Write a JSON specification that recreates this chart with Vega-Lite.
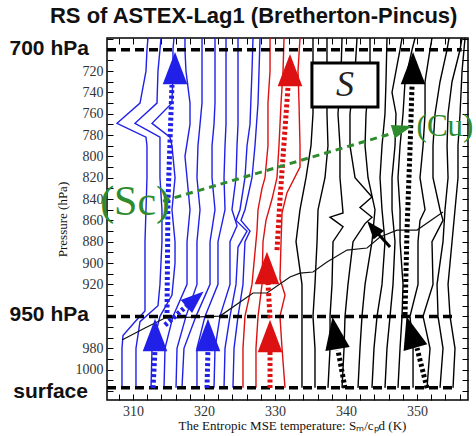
{
  "$schema": "https://vega.github.io/schema/vega-lite/v6.json",
  "width": 361,
  "height": 362,
  "autosize": "none",
  "padding": {"left": 107, "top": 38, "right": 8, "bottom": 36},
  "config": {"view": {"stroke": "black", "strokeWidth": 1.5}, "axis": {"grid": false}},
  "resolve": {"axis": {"x": "independent", "y": "independent"}},
  "datasets": {
    "lines": [
      {"id":"B1","g":"Sc","o":1,"T":308.45,"p":1017},{"id":"B1","g":"Sc","o":2,"T":308.45,"p":980},{"id":"B1","g":"Sc","o":3,"T":308.59,"p":968},{"id":"B1","g":"Sc","o":4,"T":310.28,"p":955},{"id":"B1","g":"Sc","o":5,"T":311.69,"p":945},{"id":"B1","g":"Sc","o":6,"T":311.69,"p":920},{"id":"B1","g":"Sc","o":7,"T":311.69,"p":880},{"id":"B1","g":"Sc","o":8,"T":311.83,"p":850},{"id":"B1","g":"Sc","o":9,"T":311.97,"p":820},{"id":"B1","g":"Sc","o":10,"T":311.97,"p":790},{"id":"B1","g":"Sc","o":11,"T":311.83,"p":782},{"id":"B1","g":"Sc","o":12,"T":307.75,"p":769},{"id":"B1","g":"Sc","o":13,"T":310.99,"p":750},{"id":"B1","g":"Sc","o":14,"T":311.83,"p":720},{"id":"B1","g":"Sc","o":15,"T":311.97,"p":700},{"id":"B1","g":"Sc","o":16,"T":312.11,"p":689},
      {"id":"B2","g":"Sc","o":1,"T":310.42,"p":1017},{"id":"B2","g":"Sc","o":2,"T":310.42,"p":980},{"id":"B2","g":"Sc","o":3,"T":310.99,"p":955},{"id":"B2","g":"Sc","o":4,"T":313.52,"p":940},{"id":"B2","g":"Sc","o":5,"T":313.80,"p":920},{"id":"B2","g":"Sc","o":6,"T":314.08,"p":880},{"id":"B2","g":"Sc","o":7,"T":314.08,"p":850},{"id":"B2","g":"Sc","o":8,"T":313.80,"p":820},{"id":"B2","g":"Sc","o":9,"T":313.80,"p":782},{"id":"B2","g":"Sc","o":10,"T":310.28,"p":769},{"id":"B2","g":"Sc","o":11,"T":313.38,"p":750},{"id":"B2","g":"Sc","o":12,"T":313.52,"p":720},{"id":"B2","g":"Sc","o":13,"T":313.80,"p":700},{"id":"B2","g":"Sc","o":14,"T":313.94,"p":689},
      {"id":"B3","g":"Sc","o":1,"T":312.54,"p":1017},{"id":"B3","g":"Sc","o":2,"T":312.68,"p":980},{"id":"B3","g":"Sc","o":3,"T":313.80,"p":950},{"id":"B3","g":"Sc","o":4,"T":315.49,"p":930},{"id":"B3","g":"Sc","o":5,"T":315.92,"p":900},{"id":"B3","g":"Sc","o":6,"T":315.92,"p":880},{"id":"B3","g":"Sc","o":7,"T":315.49,"p":850},{"id":"B3","g":"Sc","o":8,"T":315.92,"p":820},{"id":"B3","g":"Sc","o":9,"T":315.49,"p":790},{"id":"B3","g":"Sc","o":10,"T":315.21,"p":782},{"id":"B3","g":"Sc","o":11,"T":312.68,"p":769},{"id":"B3","g":"Sc","o":12,"T":315.49,"p":750},{"id":"B3","g":"Sc","o":13,"T":315.63,"p":720},{"id":"B3","g":"Sc","o":14,"T":315.63,"p":700},{"id":"B3","g":"Sc","o":15,"T":315.77,"p":689},
      {"id":"B4","g":"Sc","o":1,"T":314.37,"p":1017},{"id":"B4","g":"Sc","o":2,"T":314.51,"p":980},{"id":"B4","g":"Sc","o":3,"T":315.63,"p":950},{"id":"B4","g":"Sc","o":4,"T":317.61,"p":920},{"id":"B4","g":"Sc","o":5,"T":317.61,"p":880},{"id":"B4","g":"Sc","o":6,"T":318.03,"p":850},{"id":"B4","g":"Sc","o":7,"T":317.61,"p":820},{"id":"B4","g":"Sc","o":8,"T":317.32,"p":800},{"id":"B4","g":"Sc","o":9,"T":318.03,"p":770},{"id":"B4","g":"Sc","o":10,"T":318.03,"p":750},{"id":"B4","g":"Sc","o":11,"T":317.46,"p":720},{"id":"B4","g":"Sc","o":12,"T":317.32,"p":700},{"id":"B4","g":"Sc","o":13,"T":317.32,"p":689},
      {"id":"B5","g":"Sc","o":1,"T":316.06,"p":1017},{"id":"B5","g":"Sc","o":2,"T":316.20,"p":980},{"id":"B5","g":"Sc","o":3,"T":317.46,"p":950},{"id":"B5","g":"Sc","o":4,"T":319.01,"p":920},{"id":"B5","g":"Sc","o":5,"T":319.01,"p":880},{"id":"B5","g":"Sc","o":6,"T":319.44,"p":850},{"id":"B5","g":"Sc","o":7,"T":319.01,"p":820},{"id":"B5","g":"Sc","o":8,"T":319.15,"p":790},{"id":"B5","g":"Sc","o":9,"T":319.44,"p":770},{"id":"B5","g":"Sc","o":10,"T":319.72,"p":750},{"id":"B5","g":"Sc","o":11,"T":319.72,"p":720},{"id":"B5","g":"Sc","o":12,"T":319.72,"p":689},
      {"id":"B6","g":"Sc","o":1,"T":316.90,"p":1017},{"id":"B6","g":"Sc","o":2,"T":317.18,"p":980},{"id":"B6","g":"Sc","o":3,"T":318.87,"p":950},{"id":"B6","g":"Sc","o":4,"T":320.85,"p":920},{"id":"B6","g":"Sc","o":5,"T":320.85,"p":880},{"id":"B6","g":"Sc","o":6,"T":321.55,"p":850},{"id":"B6","g":"Sc","o":7,"T":321.13,"p":820},{"id":"B6","g":"Sc","o":8,"T":321.13,"p":790},{"id":"B6","g":"Sc","o":9,"T":321.41,"p":770},{"id":"B6","g":"Sc","o":10,"T":321.55,"p":750},{"id":"B6","g":"Sc","o":11,"T":321.55,"p":689},
      {"id":"B7","g":"Sc","o":1,"T":319.01,"p":1017},{"id":"B7","g":"Sc","o":2,"T":319.01,"p":980},{"id":"B7","g":"Sc","o":3,"T":320.14,"p":950},{"id":"B7","g":"Sc","o":4,"T":321.97,"p":920},{"id":"B7","g":"Sc","o":5,"T":321.97,"p":880},{"id":"B7","g":"Sc","o":6,"T":322.96,"p":850},{"id":"B7","g":"Sc","o":7,"T":322.82,"p":820},{"id":"B7","g":"Sc","o":8,"T":322.96,"p":790},{"id":"B7","g":"Sc","o":9,"T":323.10,"p":770},{"id":"B7","g":"Sc","o":10,"T":323.10,"p":689},
      {"id":"B8","g":"Sc","o":1,"T":321.41,"p":1017},{"id":"B8","g":"Sc","o":2,"T":321.55,"p":980},{"id":"B8","g":"Sc","o":3,"T":322.25,"p":950},{"id":"B8","g":"Sc","o":4,"T":323.66,"p":920},{"id":"B8","g":"Sc","o":5,"T":323.66,"p":880},{"id":"B8","g":"Sc","o":6,"T":324.65,"p":865},{"id":"B8","g":"Sc","o":7,"T":323.94,"p":850},{"id":"B8","g":"Sc","o":8,"T":324.51,"p":820},{"id":"B8","g":"Sc","o":9,"T":324.65,"p":790},{"id":"B8","g":"Sc","o":10,"T":324.79,"p":770},{"id":"B8","g":"Sc","o":11,"T":324.79,"p":689},
      {"id":"B9","g":"Sc","o":1,"T":322.82,"p":1017},{"id":"B9","g":"Sc","o":2,"T":322.96,"p":980},{"id":"B9","g":"Sc","o":3,"T":323.66,"p":950},{"id":"B9","g":"Sc","o":4,"T":324.51,"p":920},{"id":"B9","g":"Sc","o":5,"T":324.79,"p":885},{"id":"B9","g":"Sc","o":6,"T":326.06,"p":870},{"id":"B9","g":"Sc","o":7,"T":324.51,"p":860},{"id":"B9","g":"Sc","o":8,"T":325.07,"p":850},{"id":"B9","g":"Sc","o":9,"T":325.77,"p":820},{"id":"B9","g":"Sc","o":10,"T":326.06,"p":790},{"id":"B9","g":"Sc","o":11,"T":326.48,"p":770},{"id":"B9","g":"Sc","o":12,"T":326.76,"p":720},{"id":"B9","g":"Sc","o":13,"T":326.90,"p":689},
      {"id":"B10","g":"Sc","o":1,"T":324.08,"p":1017},{"id":"B10","g":"Sc","o":2,"T":324.23,"p":980},{"id":"B10","g":"Sc","o":3,"T":324.79,"p":950},{"id":"B10","g":"Sc","o":4,"T":325.49,"p":920},{"id":"B10","g":"Sc","o":5,"T":325.77,"p":880},{"id":"B10","g":"Sc","o":6,"T":326.48,"p":870},{"id":"B10","g":"Sc","o":7,"T":325.21,"p":860},{"id":"B10","g":"Sc","o":8,"T":325.77,"p":850},{"id":"B10","g":"Sc","o":9,"T":326.76,"p":820},{"id":"B10","g":"Sc","o":10,"T":327.18,"p":790},{"id":"B10","g":"Sc","o":11,"T":327.61,"p":750},{"id":"B10","g":"Sc","o":12,"T":327.75,"p":720},{"id":"B10","g":"Sc","o":13,"T":327.89,"p":689},
      {"id":"R1","g":"tr","o":1,"T":325.49,"p":1017},{"id":"R1","g":"tr","o":2,"T":325.49,"p":980},{"id":"R1","g":"tr","o":3,"T":325.77,"p":950},{"id":"R1","g":"tr","o":4,"T":326.76,"p":920},{"id":"R1","g":"tr","o":5,"T":327.18,"p":890},{"id":"R1","g":"tr","o":6,"T":327.46,"p":870},{"id":"R1","g":"tr","o":7,"T":327.61,"p":850},{"id":"R1","g":"tr","o":8,"T":328.17,"p":830},{"id":"R1","g":"tr","o":9,"T":328.59,"p":820},{"id":"R1","g":"tr","o":10,"T":329.01,"p":790},{"id":"R1","g":"tr","o":11,"T":329.01,"p":750},{"id":"R1","g":"tr","o":12,"T":329.30,"p":720},{"id":"R1","g":"tr","o":13,"T":329.30,"p":689},
      {"id":"R2","g":"tr","o":1,"T":327.32,"p":1017},{"id":"R2","g":"tr","o":2,"T":327.32,"p":980},{"id":"R2","g":"tr","o":3,"T":327.61,"p":950},{"id":"R2","g":"tr","o":4,"T":328.17,"p":920},{"id":"R2","g":"tr","o":5,"T":328.31,"p":880},{"id":"R2","g":"tr","o":6,"T":328.73,"p":860},{"id":"R2","g":"tr","o":7,"T":329.58,"p":840},{"id":"R2","g":"tr","o":8,"T":330.28,"p":820},{"id":"R2","g":"tr","o":9,"T":330.56,"p":790},{"id":"R2","g":"tr","o":10,"T":330.85,"p":750},{"id":"R2","g":"tr","o":11,"T":331.13,"p":720},{"id":"R2","g":"tr","o":12,"T":331.27,"p":689},
      {"id":"R3","g":"tr","o":1,"T":331.41,"p":1017},{"id":"R3","g":"tr","o":2,"T":330.99,"p":980},{"id":"R3","g":"tr","o":3,"T":330.70,"p":950},{"id":"R3","g":"tr","o":4,"T":331.41,"p":930},{"id":"R3","g":"tr","o":5,"T":330.70,"p":915},{"id":"R3","g":"tr","o":6,"T":330.85,"p":880},{"id":"R3","g":"tr","o":7,"T":330.99,"p":853},{"id":"R3","g":"tr","o":8,"T":331.69,"p":834},{"id":"R3","g":"tr","o":9,"T":333.52,"p":810},{"id":"R3","g":"tr","o":10,"T":333.52,"p":790},{"id":"R3","g":"tr","o":11,"T":333.38,"p":750},{"id":"R3","g":"tr","o":12,"T":333.24,"p":720},{"id":"R3","g":"tr","o":13,"T":333.52,"p":689},
      {"id":"K1","g":"Cu","o":1,"T":333.80,"p":1017},{"id":"K1","g":"Cu","o":2,"T":333.80,"p":980},{"id":"K1","g":"Cu","o":3,"T":333.80,"p":950},{"id":"K1","g":"Cu","o":4,"T":333.80,"p":920},{"id":"K1","g":"Cu","o":5,"T":332.96,"p":880},{"id":"K1","g":"Cu","o":6,"T":333.52,"p":850},{"id":"K1","g":"Cu","o":7,"T":334.37,"p":820},{"id":"K1","g":"Cu","o":8,"T":335.07,"p":790},{"id":"K1","g":"Cu","o":9,"T":335.35,"p":760},{"id":"K1","g":"Cu","o":10,"T":335.35,"p":720},{"id":"K1","g":"Cu","o":11,"T":335.35,"p":689},
      {"id":"K2","g":"Cu","o":1,"T":335.63,"p":1017},{"id":"K2","g":"Cu","o":2,"T":335.63,"p":980},{"id":"K2","g":"Cu","o":3,"T":335.35,"p":950},{"id":"K2","g":"Cu","o":4,"T":335.63,"p":920},{"id":"K2","g":"Cu","o":5,"T":335.92,"p":880},{"id":"K2","g":"Cu","o":6,"T":336.06,"p":850},{"id":"K2","g":"Cu","o":7,"T":337.04,"p":820},{"id":"K2","g":"Cu","o":8,"T":337.46,"p":790},{"id":"K2","g":"Cu","o":9,"T":337.32,"p":760},{"id":"K2","g":"Cu","o":10,"T":337.32,"p":720},{"id":"K2","g":"Cu","o":11,"T":337.32,"p":689},
      {"id":"K3","g":"Cu","o":1,"T":337.46,"p":1017},{"id":"K3","g":"Cu","o":2,"T":337.75,"p":980},{"id":"K3","g":"Cu","o":3,"T":337.75,"p":950},{"id":"K3","g":"Cu","o":4,"T":338.03,"p":920},{"id":"K3","g":"Cu","o":5,"T":338.17,"p":880},{"id":"K3","g":"Cu","o":6,"T":339.58,"p":866},{"id":"K3","g":"Cu","o":7,"T":337.75,"p":857},{"id":"K3","g":"Cu","o":8,"T":339.58,"p":853},{"id":"K3","g":"Cu","o":9,"T":339.15,"p":820},{"id":"K3","g":"Cu","o":10,"T":339.15,"p":790},{"id":"K3","g":"Cu","o":11,"T":338.87,"p":760},{"id":"K3","g":"Cu","o":12,"T":339.30,"p":720},{"id":"K3","g":"Cu","o":13,"T":339.44,"p":689},
      {"id":"K4","g":"Cu","o":1,"T":339.44,"p":1017},{"id":"K4","g":"Cu","o":2,"T":339.72,"p":980},{"id":"K4","g":"Cu","o":3,"T":339.86,"p":950},{"id":"K4","g":"Cu","o":4,"T":340.28,"p":920},{"id":"K4","g":"Cu","o":5,"T":340.99,"p":880},{"id":"K4","g":"Cu","o":6,"T":342.68,"p":863},{"id":"K4","g":"Cu","o":7,"T":343.66,"p":857},{"id":"K4","g":"Cu","o":8,"T":341.97,"p":848},{"id":"K4","g":"Cu","o":9,"T":343.66,"p":838},{"id":"K4","g":"Cu","o":10,"T":341.27,"p":820},{"id":"K4","g":"Cu","o":11,"T":340.56,"p":790},{"id":"K4","g":"Cu","o":12,"T":340.56,"p":760},{"id":"K4","g":"Cu","o":13,"T":341.27,"p":720},{"id":"K4","g":"Cu","o":14,"T":341.55,"p":689},
      {"id":"K5","g":"Cu","o":1,"T":341.69,"p":1017},{"id":"K5","g":"Cu","o":2,"T":341.97,"p":980},{"id":"K5","g":"Cu","o":3,"T":342.25,"p":950},{"id":"K5","g":"Cu","o":4,"T":342.68,"p":920},{"id":"K5","g":"Cu","o":5,"T":343.66,"p":880},{"id":"K5","g":"Cu","o":6,"T":344.08,"p":850},{"id":"K5","g":"Cu","o":7,"T":343.10,"p":820},{"id":"K5","g":"Cu","o":8,"T":342.68,"p":790},{"id":"K5","g":"Cu","o":9,"T":342.82,"p":760},{"id":"K5","g":"Cu","o":10,"T":343.38,"p":720},{"id":"K5","g":"Cu","o":11,"T":343.38,"p":689},
      {"id":"K6","g":"Cu","o":1,"T":343.66,"p":1017},{"id":"K6","g":"Cu","o":2,"T":343.94,"p":980},{"id":"K6","g":"Cu","o":3,"T":344.37,"p":950},{"id":"K6","g":"Cu","o":4,"T":345.07,"p":920},{"id":"K6","g":"Cu","o":5,"T":345.49,"p":880},{"id":"K6","g":"Cu","o":6,"T":345.07,"p":850},{"id":"K6","g":"Cu","o":7,"T":344.79,"p":820},{"id":"K6","g":"Cu","o":8,"T":345.07,"p":790},{"id":"K6","g":"Cu","o":9,"T":345.49,"p":760},{"id":"K6","g":"Cu","o":10,"T":345.63,"p":730},{"id":"K6","g":"Cu","o":11,"T":345.77,"p":689},
      {"id":"K7","g":"Cu","o":1,"T":345.49,"p":1017},{"id":"K7","g":"Cu","o":2,"T":345.77,"p":980},{"id":"K7","g":"Cu","o":3,"T":346.20,"p":950},{"id":"K7","g":"Cu","o":4,"T":346.62,"p":920},{"id":"K7","g":"Cu","o":5,"T":346.90,"p":880},{"id":"K7","g":"Cu","o":6,"T":346.48,"p":850},{"id":"K7","g":"Cu","o":7,"T":346.48,"p":820},{"id":"K7","g":"Cu","o":8,"T":346.90,"p":790},{"id":"K7","g":"Cu","o":9,"T":347.04,"p":760},{"id":"K7","g":"Cu","o":10,"T":346.48,"p":740},{"id":"K7","g":"Cu","o":11,"T":347.18,"p":715},{"id":"K7","g":"Cu","o":12,"T":347.61,"p":700},{"id":"K7","g":"Cu","o":13,"T":347.89,"p":689},
      {"id":"K8","g":"Cu","o":1,"T":347.32,"p":1017},{"id":"K8","g":"Cu","o":2,"T":347.61,"p":980},{"id":"K8","g":"Cu","o":3,"T":347.89,"p":950},{"id":"K8","g":"Cu","o":4,"T":348.03,"p":920},{"id":"K8","g":"Cu","o":5,"T":347.61,"p":880},{"id":"K8","g":"Cu","o":6,"T":347.61,"p":850},{"id":"K8","g":"Cu","o":7,"T":347.32,"p":820},{"id":"K8","g":"Cu","o":8,"T":347.61,"p":790},{"id":"K8","g":"Cu","o":9,"T":348.03,"p":760},{"id":"K8","g":"Cu","o":10,"T":348.31,"p":730},{"id":"K8","g":"Cu","o":11,"T":349.30,"p":700},{"id":"K8","g":"Cu","o":12,"T":349.72,"p":689},
      {"id":"K9","g":"Cu","o":1,"T":349.44,"p":1017},{"id":"K9","g":"Cu","o":2,"T":349.44,"p":980},{"id":"K9","g":"Cu","o":3,"T":349.01,"p":950},{"id":"K9","g":"Cu","o":4,"T":350.14,"p":920},{"id":"K9","g":"Cu","o":5,"T":350.14,"p":880},{"id":"K9","g":"Cu","o":6,"T":350.42,"p":860},{"id":"K9","g":"Cu","o":7,"T":351.13,"p":850},{"id":"K9","g":"Cu","o":8,"T":350.42,"p":820},{"id":"K9","g":"Cu","o":9,"T":350.85,"p":790},{"id":"K9","g":"Cu","o":10,"T":351.13,"p":760},{"id":"K9","g":"Cu","o":11,"T":351.13,"p":730},{"id":"K9","g":"Cu","o":12,"T":351.83,"p":700},{"id":"K9","g":"Cu","o":13,"T":352.11,"p":689},
      {"id":"K10","g":"Cu","o":1,"T":351.41,"p":1017},{"id":"K10","g":"Cu","o":2,"T":351.83,"p":980},{"id":"K10","g":"Cu","o":3,"T":350.85,"p":950},{"id":"K10","g":"Cu","o":4,"T":352.25,"p":920},{"id":"K10","g":"Cu","o":5,"T":352.11,"p":880},{"id":"K10","g":"Cu","o":6,"T":353.66,"p":860},{"id":"K10","g":"Cu","o":7,"T":353.24,"p":850},{"id":"K10","g":"Cu","o":8,"T":352.25,"p":820},{"id":"K10","g":"Cu","o":9,"T":352.25,"p":790},{"id":"K10","g":"Cu","o":10,"T":352.54,"p":760},{"id":"K10","g":"Cu","o":11,"T":353.24,"p":730},{"id":"K10","g":"Cu","o":12,"T":354.23,"p":700},{"id":"K10","g":"Cu","o":13,"T":354.51,"p":689},
      {"id":"K11","g":"Cu","o":1,"T":353.24,"p":1017},{"id":"K11","g":"Cu","o":2,"T":353.66,"p":980},{"id":"K11","g":"Cu","o":3,"T":352.96,"p":950},{"id":"K11","g":"Cu","o":4,"T":352.82,"p":920},{"id":"K11","g":"Cu","o":5,"T":353.66,"p":880},{"id":"K11","g":"Cu","o":6,"T":353.94,"p":850},{"id":"K11","g":"Cu","o":7,"T":354.37,"p":820},{"id":"K11","g":"Cu","o":8,"T":354.23,"p":790},{"id":"K11","g":"Cu","o":9,"T":354.37,"p":760},{"id":"K11","g":"Cu","o":10,"T":354.93,"p":730},{"id":"K11","g":"Cu","o":11,"T":356.06,"p":700},{"id":"K11","g":"Cu","o":12,"T":356.34,"p":689},
      {"id":"K12","g":"Cu","o":1,"T":355.07,"p":1017},{"id":"K12","g":"Cu","o":2,"T":355.35,"p":980},{"id":"K12","g":"Cu","o":3,"T":354.65,"p":950},{"id":"K12","g":"Cu","o":4,"T":354.37,"p":920},{"id":"K12","g":"Cu","o":5,"T":354.93,"p":880},{"id":"K12","g":"Cu","o":6,"T":355.35,"p":850},{"id":"K12","g":"Cu","o":7,"T":355.77,"p":820},{"id":"K12","g":"Cu","o":8,"T":355.77,"p":790},{"id":"K12","g":"Cu","o":9,"T":356.06,"p":760},{"id":"K12","g":"Cu","o":10,"T":356.34,"p":720},{"id":"K12","g":"Cu","o":11,"T":356.76,"p":689}
    ],
    "curve": [
      {"o":1,"T":308.45,"p":972.2},{"o":2,"T":311.69,"p":960.9},{"o":3,"T":314.51,"p":951.6},{"o":4,"T":322.25,"p":949.7},{"o":5,"T":326.90,"p":928.1},{"o":6,"T":328.87,"p":928.1},{"o":7,"T":332.11,"p":913.1},{"o":8,"T":333.52,"p":909.4},{"o":9,"T":335.35,"p":908.4},{"o":10,"T":337.32,"p":899.1},{"o":11,"T":340.14,"p":887.8},{"o":12,"T":342.96,"p":885.9},{"o":13,"T":344.79,"p":875.6},{"o":14,"T":347.18,"p":869.1},{"o":15,"T":350.0,"p":869.1},{"o":16,"T":353.66,"p":852.2}
    ],
    "levels": [
      {"name":"700 hPa","p":700,"T":306.34,"T2":356.3},
      {"name":"950 hPa","p":950,"T":306.34,"T2":355.35},
      {"name":"surface","p":1017,"T":306.34,"T2":355.35}
    ],
    "shafts": [
      {"id":"A1","g":"Sc","o":1,"T":314.79,"p":946.9},{"id":"A1","g":"Sc","o":2,"T":314.93,"p":840.9},{"id":"A1","g":"Sc","o":3,"T":315.49,"p":733.1},
      {"id":"A2","g":"Sc","o":1,"T":312.82,"p":1017.2},{"id":"A2","g":"Sc","o":2,"T":313.10,"p":981.6},
      {"id":"A3","g":"Sc","o":1,"T":320.42,"p":1017.2},{"id":"A3","g":"Sc","o":2,"T":320.56,"p":981.6},
      {"id":"A4","g":"Sc","o":1,"T":314.51,"p":958.1},{"id":"A4","g":"Sc","o":2,"T":318.03,"p":937.5},
      {"id":"A5","g":"tr","o":1,"T":329.30,"p":1017.2},{"id":"A5","g":"tr","o":2,"T":329.30,"p":983.4},
      {"id":"A6","g":"tr","o":1,"T":329.30,"p":951.6},{"id":"A6","g":"tr","o":2,"T":329.01,"p":918.8},
      {"id":"A7","g":"tr","o":1,"T":330.28,"p":887.8},{"id":"A7","g":"tr","o":2,"T":330.70,"p":840.9},{"id":"A7","g":"tr","o":3,"T":331.83,"p":735.0},
      {"id":"A8","g":"Cu","o":1,"T":348.31,"p":948.75},{"id":"A8","g":"Cu","o":2,"T":348.59,"p":869.1},{"id":"A8","g":"Cu","o":3,"T":349.01,"p":794.1},{"id":"A8","g":"Cu","o":4,"T":349.30,"p":733.1},
      {"id":"A9","g":"Cu","o":1,"T":339.86,"p":1017.2},{"id":"A9","g":"Cu","o":2,"T":338.87,"p":981.6},
      {"id":"A10","g":"Cu","o":1,"T":351.41,"p":1017.2},{"id":"A10","g":"Cu","o":2,"T":350.0,"p":979.7}
    ],
    "heads": [
      {"g":"Sc","T":315.92,"p":717.2,"dir":0},
      {"g":"Sc","T":313.10,"p":967.5,"dir":0},
      {"g":"Sc","T":320.56,"p":967.5,"dir":0},
      {"g":"tr","T":329.30,"p":968.4,"dir":0},
      {"g":"tr","T":328.87,"p":904.7,"dir":0},
      {"g":"tr","T":332.11,"p":719.1,"dir":0},
      {"g":"Cu","T":349.44,"p":717.2,"dir":0},
      {"g":"Cu","T":338.45,"p":965.6,"dir":-9},
      {"g":"Cu","T":349.15,"p":964.7,"dir":-16}
    ],
    "slanthead": [{"g":"Sc","T":318.73,"p":933.75,"dir":49}],
    "minihead": [{"g":"Cu","T":343.80,"p":867.2,"dir":-40}],
    "minishaft": [{"o":1,"T":343.80,"p":867.2},{"o":2,"T":346.20,"p":885.0}],
    "link": [{"o":1,"T":314.23,"p":841.9},{"o":2,"T":347.61,"p":776.25}],
    "linkhead": [{"g":"link","T":347.94,"p":774.2,"dir":73.6}],
    "box": [{"T":335.2,"T2":344.5,"p":712.5,"p2":753.7}],
    "sym": [{"t":"S","T":339.86,"p":733.1}],
    "sc": [{"t":"(Sc)","T":310.3,"p":842.8}],
    "cu": [{"t":"(Cu)","T":353.94,"p":772.5}],
    "side": [
      {"t":"700 hPa","T":298.2,"p":699.4},
      {"t":"950 hPa","T":298.2,"p":948.8},
      {"t":"surface","T":298.4,"p":1020.6}
    ],
    "heading": [{"t":"RS of ASTEX-Lag1 (Bretherton-Pincus)","T":327.0,"p":668.0}]
  },
  "layer": [
    {
      "data": {"name": "lines"},
      "mark": {"type": "line", "strokeWidth": 1.4, "interpolate": "linear"},
      "encoding": {
        "x": {"field": "T", "type": "quantitative", "scale": {"domain": [306.34, 357.18], "nice": false, "zero": false},
          "axis": {"orient": "bottom", "values": [308,310,312,314,316,318,320,322,324,326,328,330,332,334,336,338,340,342,344,346,348,350,352,354,356],
            "format": "d", "labelExpr": "datum.value % 10 === 0 ? datum.label : ''", "domain": false, "tickSize": -6, "tickColor": "black", "tickWidth": 1,
            "labelPadding": 10, "labelFont": "Liberation Serif", "labelFontSize": 14, "labelColor": "#333333", "labelOverlap": false, "labelFlush": false,
            "title": "The Entropic MSE temperature: Sₘ/cₚd (K)", "titleFont": "Liberation Serif", "titleFontSize": 13, "titleFontWeight": "normal", "titleColor": "#111111",
            "titleX": 185, "titleY": 25, "titleAlign": "center", "titleBaseline": "middle"}},
        "y": {"field": "p", "type": "quantitative", "scale": {"domain": [689, 1028.4], "reverse": true, "nice": false, "zero": false},
          "axis": {"orient": "left", "values": [690,700,710,720,730,740,750,760,770,780,790,800,810,820,830,840,850,860,870,880,890,900,910,920,930,940,950,960,970,980,990,1000,1010,1020],
            "format": "d", "labelExpr": "((datum.value >= 720 && datum.value <= 920 && datum.value % 20 === 0) || datum.value === 980 || datum.value === 1000) ? datum.label : ''",
            "domain": false, "tickSize": -6, "tickColor": "black", "tickWidth": 1, "labelPadding": 10, "labelFont": "Liberation Serif", "labelFontSize": 14, "labelColor": "#333333", "labelOverlap": false, "labelFlush": false,
            "title": "Pressure (hPa)", "titleFont": "Liberation Serif", "titleFontSize": 13, "titleFontWeight": "normal", "titleColor": "#111111",
            "titleX": -45, "titleY": 181, "titleAngle": -90, "titleAlign": "center", "titleBaseline": "middle"}},
        "color": {"field": "g", "type": "nominal", "scale": {"domain": ["Sc", "tr", "Cu", "link"], "range": ["#2020e8", "#dd1111", "#000000", "#2e8b2e"]}, "legend": null},
        "detail": {"field": "id"},
        "order": {"field": "o", "type": "quantitative"}
      }
    },
    {
      "data": {"name": "curve"},
      "mark": {"type": "line", "strokeWidth": 1.2, "color": "#111111"},
      "encoding": {
        "x": {"field": "T", "type": "quantitative", "axis": {"orient": "top", "values": [308,310,312,314,316,318,320,322,324,326,328,330,332,334,336,338,340,342,344,346,348,350,352,354,356], "labels": false, "domain": false, "tickSize": -6, "tickColor": "black", "title": null}},
        "y": {"field": "p", "type": "quantitative", "axis": {"orient": "right", "values": [690,700,710,720,730,740,750,760,770,780,790,800,810,820,830,840,850,860,870,880,890,900,910,920,930,940,950,960,970,980,990,1000,1010,1020], "labels": false, "domain": false, "tickSize": -6, "tickColor": "black", "title": null}},
        "order": {"field": "o", "type": "quantitative"}
      }
    },
    {
      "data": {"name": "levels"},
      "mark": {"type": "rule", "strokeWidth": 3.5, "strokeDash": [9, 5], "color": "black"},
      "encoding": {
        "x": {"field": "T", "type": "quantitative", "axis": null},
        "x2": {"field": "T2"},
        "y": {"field": "p", "type": "quantitative", "axis": null}
      }
    },
    {
      "data": {"name": "shafts"},
      "mark": {"type": "line", "strokeWidth": 5, "strokeDash": [3, 2.5]},
      "encoding": {
        "x": {"field": "T", "type": "quantitative", "axis": null},
        "y": {"field": "p", "type": "quantitative", "axis": null},
        "color": {"field": "g", "type": "nominal", "legend": null},
        "detail": {"field": "id"},
        "order": {"field": "o", "type": "quantitative"}
      }
    },
    {
      "data": {"name": "minishaft"},
      "mark": {"type": "line", "strokeWidth": 3, "color": "black"},
      "encoding": {
        "x": {"field": "T", "type": "quantitative", "axis": null},
        "y": {"field": "p", "type": "quantitative", "axis": null},
        "order": {"field": "o", "type": "quantitative"}
      }
    },
    {
      "data": {"name": "link"},
      "mark": {"type": "line", "strokeWidth": 3, "strokeDash": [7, 5], "color": "#2e8b2e"},
      "encoding": {
        "x": {"field": "T", "type": "quantitative", "axis": null},
        "y": {"field": "p", "type": "quantitative", "axis": null},
        "order": {"field": "o", "type": "quantitative"}
      }
    },
    {
      "data": {"name": "heads"},
      "mark": {"type": "point", "shape": "M0,-1L0.76,1L-0.76,1Z", "filled": true, "size": 1050, "opacity": 1, "strokeWidth": 0},
      "encoding": {
        "x": {"field": "T", "type": "quantitative", "axis": null},
        "y": {"field": "p", "type": "quantitative", "axis": null},
        "color": {"field": "g", "type": "nominal", "legend": null},
        "angle": {"field": "dir", "type": "quantitative", "scale": null}
      }
    },
    {
      "data": {"name": "slanthead"},
      "mark": {"type": "point", "shape": "M0,-1L0.76,1L-0.76,1Z", "filled": true, "size": 520, "opacity": 1, "strokeWidth": 0},
      "encoding": {
        "x": {"field": "T", "type": "quantitative", "axis": null},
        "y": {"field": "p", "type": "quantitative", "axis": null},
        "color": {"field": "g", "type": "nominal", "legend": null},
        "angle": {"field": "dir", "type": "quantitative", "scale": null}
      }
    },
    {
      "data": {"name": "minihead"},
      "mark": {"type": "point", "shape": "M0,-1L0.75,1L-0.75,1Z", "filled": true, "size": 330, "opacity": 1, "strokeWidth": 0},
      "encoding": {
        "x": {"field": "T", "type": "quantitative", "axis": null},
        "y": {"field": "p", "type": "quantitative", "axis": null},
        "color": {"field": "g", "type": "nominal", "legend": null},
        "angle": {"field": "dir", "type": "quantitative", "scale": null}
      }
    },
    {
      "data": {"name": "linkhead"},
      "mark": {"type": "point", "shape": "M0,-1L0.7,1L-0.7,1Z", "filled": true, "size": 400, "opacity": 1, "strokeWidth": 0},
      "encoding": {
        "x": {"field": "T", "type": "quantitative", "axis": null},
        "y": {"field": "p", "type": "quantitative", "axis": null},
        "color": {"field": "g", "type": "nominal", "legend": null},
        "angle": {"field": "dir", "type": "quantitative", "scale": null}
      }
    },
    {
      "data": {"name": "box"},
      "mark": {"type": "rect", "fill": "white", "stroke": "black", "strokeWidth": 3},
      "encoding": {
        "x": {"field": "T", "type": "quantitative", "axis": null},
        "x2": {"field": "T2"},
        "y": {"field": "p", "type": "quantitative", "axis": null},
        "y2": {"field": "p2"}
      }
    },
    {
      "data": {"name": "sym"},
      "mark": {"type": "text", "font": "Liberation Serif", "fontStyle": "italic", "fontSize": 36, "color": "#222222", "align": "center", "baseline": "middle"},
      "encoding": {
        "x": {"field": "T", "type": "quantitative", "axis": null},
        "y": {"field": "p", "type": "quantitative", "axis": null},
        "text": {"field": "t"}
      }
    },
    {
      "data": {"name": "sc"},
      "mark": {"type": "text", "font": "Liberation Serif", "fontSize": 42, "color": "#2e8b2e", "align": "center", "baseline": "middle"},
      "encoding": {
        "x": {"field": "T", "type": "quantitative", "axis": null},
        "y": {"field": "p", "type": "quantitative", "axis": null},
        "text": {"field": "t"}
      }
    },
    {
      "data": {"name": "cu"},
      "mark": {"type": "text", "font": "Liberation Serif", "fontSize": 31, "color": "#2e8b2e", "align": "center", "baseline": "middle"},
      "encoding": {
        "x": {"field": "T", "type": "quantitative", "axis": null},
        "y": {"field": "p", "type": "quantitative", "axis": null},
        "text": {"field": "t"}
      }
    },
    {
      "data": {"name": "side"},
      "mark": {"type": "text", "font": "Liberation Sans", "fontWeight": "bold", "fontSize": 21, "color": "#111111", "align": "center", "baseline": "middle"},
      "encoding": {
        "x": {"field": "T", "type": "quantitative", "axis": null},
        "y": {"field": "p", "type": "quantitative", "axis": null},
        "text": {"field": "t"}
      }
    },
    {
      "data": {"name": "heading"},
      "mark": {"type": "text", "font": "Liberation Sans", "fontWeight": "bold", "fontSize": 22, "color": "#111111", "align": "center", "baseline": "middle"},
      "encoding": {
        "x": {"field": "T", "type": "quantitative", "axis": null},
        "y": {"field": "p", "type": "quantitative", "axis": null},
        "text": {"field": "t"}
      }
    }
  ]
}
